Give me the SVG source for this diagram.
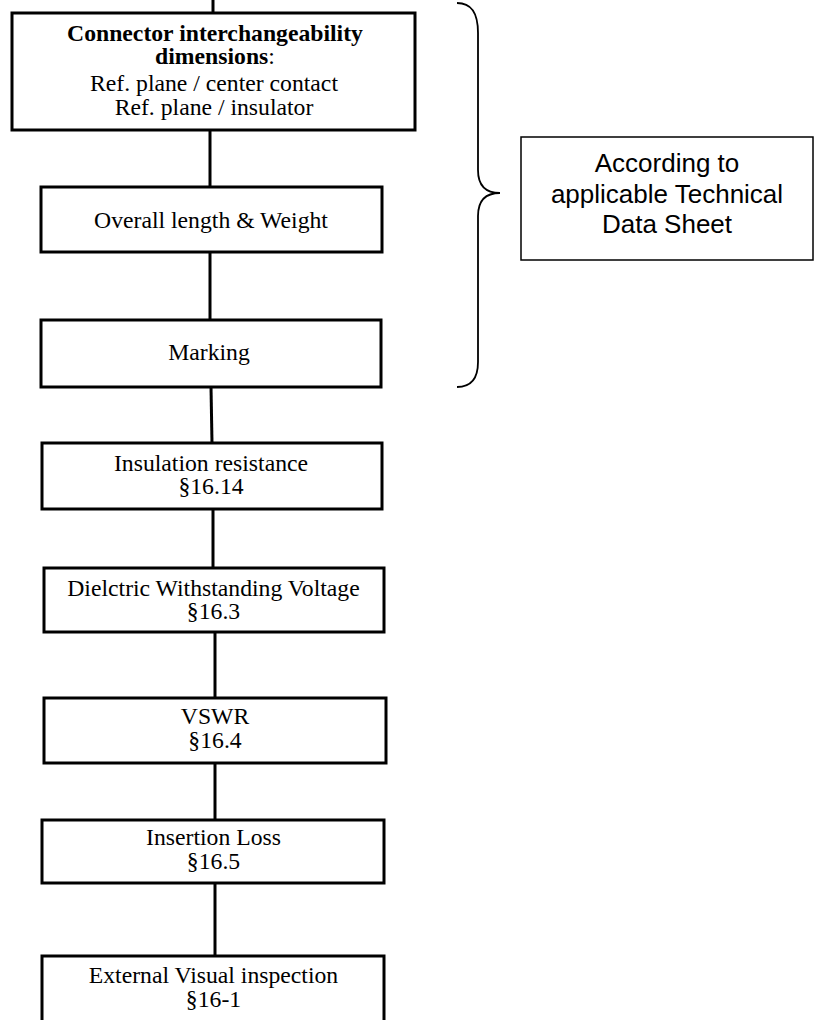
<svg xmlns="http://www.w3.org/2000/svg" width="814" height="1020" viewBox="0 0 814 1020">
<style>
.box{fill:#fff;stroke:#000;stroke-width:3}
.t{font-family:"Liberation Serif","Times New Roman",serif;font-size:23.7px;fill:#000;text-anchor:middle}
.b{font-weight:bold}
.conn{stroke:#000;stroke-width:3;fill:none}
.s{font-family:"Liberation Sans",Arial,sans-serif;font-size:26px;fill:#000;text-anchor:middle}
</style>
<rect width="814" height="1020" fill="#fff"/>
<g id="connectors">
<line class="conn" x1="213" y1="0" x2="213" y2="13"/>
<line class="conn" x1="210" y1="130" x2="210" y2="187"/>
<line class="conn" x1="210" y1="252" x2="210" y2="320"/>
<line class="conn" x1="211" y1="387" x2="212" y2="443"/>
<line class="conn" x1="213" y1="509" x2="213" y2="568"/>
<line class="conn" x1="215" y1="632" x2="215" y2="698"/>
<line class="conn" x1="215" y1="763" x2="215" y2="820"/>
<line class="conn" x1="215" y1="883" x2="215" y2="956"/>
</g>
<g id="n1">
<rect class="box" x="12" y="13" width="403" height="117"/>
<text class="t b" x="215" y="41">Connector interchangeability</text>
<text class="t" x="215" y="64"><tspan class="b">dimensions</tspan>:</text>
<text class="t" x="214" y="91">Ref. plane / center contact</text>
<text class="t" x="214" y="115">Ref. plane / insulator</text>
</g>
<g id="n2">
<rect class="box" x="41" y="187" width="341" height="65"/>
<text class="t" x="211" y="228">Overall length &amp; Weight</text>
</g>
<g id="n3">
<rect class="box" x="41" y="320" width="340" height="67"/>
<text class="t" x="209" y="360">Marking</text>
</g>
<g id="n4">
<rect class="box" x="42" y="443" width="340" height="66"/>
<text class="t" x="211" y="471">Insulation resistance</text>
<text class="t" x="211" y="494">§16.14</text>
</g>
<g id="n5">
<rect class="box" x="44" y="568" width="340" height="64"/>
<text class="t" x="213.5" y="596">Dielctric Withstanding Voltage</text>
<text class="t" x="213.5" y="619">§16.3</text>
</g>
<g id="n6">
<rect class="box" x="44" y="698" width="342" height="65"/>
<text class="t" x="215" y="724">VSWR</text>
<text class="t" x="215" y="748">§16.4</text>
</g>
<g id="n7">
<rect class="box" x="42" y="820" width="342" height="63"/>
<text class="t" x="213.5" y="845">Insertion Loss</text>
<text class="t" x="213.5" y="869">§16.5</text>
</g>
<g id="n8">
<rect class="box" x="42" y="956" width="342" height="80"/>
<text class="t" x="213.5" y="983">External Visual inspection</text>
<text class="t" x="213.5" y="1007">§16-1</text>
</g>
<g id="brace">
<path d="M457,3 C471,3 478,12 478,33 L478,170 C478,185 485,193 500,193 C485,193 478,201 478,216 L478,362 C478,379 471,387 457,387" fill="none" stroke="#000" stroke-width="1.8"/>
</g>
<g id="note">
<rect x="521" y="137" width="292" height="123" fill="#fff" stroke="#000" stroke-width="1.5"/>
<text class="s" x="667" y="172">According to</text>
<text class="s" x="667" y="203">applicable Technical</text>
<text class="s" x="667" y="233">Data Sheet</text>
</g>
</svg>
